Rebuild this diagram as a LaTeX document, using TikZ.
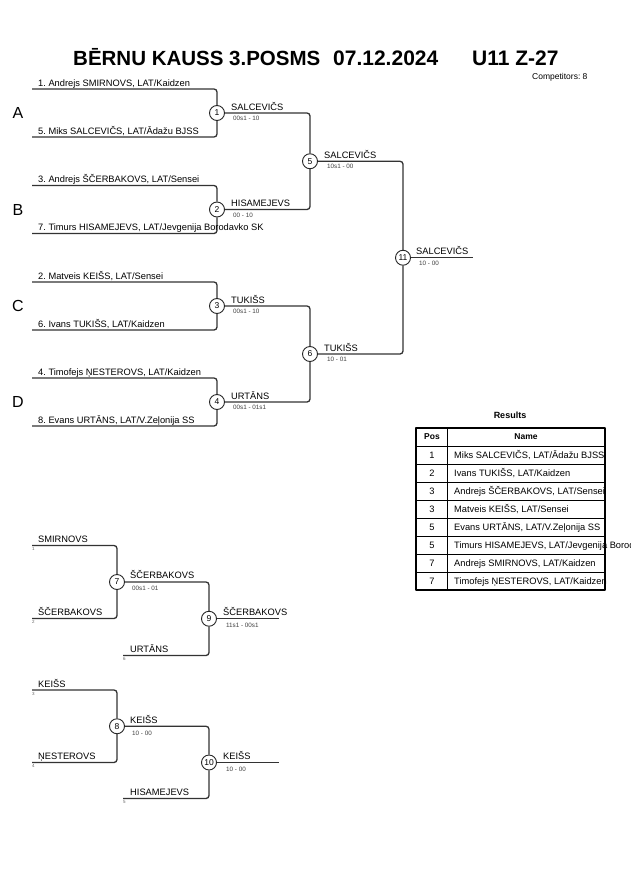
\documentclass[tikz,border=0pt]{standalone}
\usepackage{fontspec}
\setmainfont{Liberation Sans}
\usetikzlibrary{backgrounds}
\frenchspacing
\begin{document}
\begin{tikzpicture}[x=1pt,y=-1pt,line join=round,line cap=round,font=\fontsize{9.3}{10}\selectfont,
	bracket/.style={line width=1.3pt,black!80,rounded corners=3pt},
	pool/.style={circle,draw=black!85,line width=0.9pt,fill=white,inner sep=0pt,minimum size=15pt,font=\fontsize{8.5}{9}\selectfont},
	entrant/.style={anchor=base west,inner sep=0pt},
	score/.style={anchor=base west,inner sep=0pt,font=\fontsize{6.3}{7}\selectfont,black!75},
	seed/.style={anchor=north west,inner sep=0pt,font=\fontsize{4.5}{5}\selectfont,black!60},
	group/.style={inner sep=0pt,font=\fontsize{16}{18}\selectfont},
	headline/.style={anchor=base west,inner sep=0pt,font=\fontsize{21}{23}\selectfont\bfseries}]
	\useasboundingbox (0,0) rectangle (630,891);
	% virsraksts
	\node[headline,font=\fontsize{20.5}{22}\selectfont\bfseries] (title) at (73,66) {BĒRNU KAUSS 3.POSMS};
	\node[headline] (date) at (333,66) {07.12.2024};
	\node[headline] (cat) at (472,66) {U11 Z-27};
	\node[entrant,font=\fontsize{8.5}{9}\selectfont] (comp) at (532,79) {Competitors: 8};
	% pamata tabula
	\path
	(32,89) coordinate (p1)
	(32,137) coordinate (p5)
	(32,185.5) coordinate (p3)
	(32,233.5) coordinate (p7)
	(32,282) coordinate (p2)
	(32,330) coordinate (p6)
	(32,378) coordinate (p4)
	(32,426) coordinate (p8)
	(473,257.75) coordinate (f11);
	\node[pool] (m1) at (217,113) {1};
	\node[pool] (m2) at (217,209.5) {2};
	\node[pool] (m3) at (217,306) {3};
	\node[pool] (m4) at (217,402) {4};
	\node[pool] (m5) at (310,161.25) {5};
	\node[pool] (m6) at (310,354) {6};
	\node[pool] (m11) at (403,257.75) {11};
	% liniju savienojumi
	\begin{scope}[on background layer]
	\draw[bracket] (p1) -| (m1) (p5) -| (m1);
	\draw[bracket] (p3) -| (m2) (p7) -| (m2);
	\draw[bracket] (p2) -| (m3) (p6) -| (m3);
	\draw[bracket] (p4) -| (m4) (p8) -| (m4);
	\draw[bracket] (m1) -| (m5) (m2) -| (m5);
	\draw[bracket] (m3) -| (m6) (m4) -| (m6);
	\draw[bracket] (m5) -| (m11) (m6) -| (m11);
	\draw[bracket] (m11) -- (f11);
	\end{scope}
	% grupas
	\node[group] (gA) at (18,113) {A};
	\node[group] (gB) at (18,209.5) {B};
	\node[group] (gC) at (18,306) {C};
	\node[group] (gD) at (18,402) {D};
	% dalibnieki
	\node[entrant] (n1) at (38,86) {1. Andrejs SMIRNOVS, LAT/Kaidzen};
	\node[entrant] (n5) at (38,134) {5. Miks SALCEVIČS, LAT/Ādažu BJSS};
	\node[entrant] (n3) at (38,182.5) {3. Andrejs ŠČERBAKOVS, LAT/Sensei};
	\node[entrant] (n7) at (38,230.5) {7. Timurs HISAMEJEVS, LAT/Jevgenija Borodavko SK};
	\node[entrant] (n2) at (38,279) {2. Matveis KEIŠS, LAT/Sensei};
	\node[entrant] (n6) at (38,327) {6. Ivans TUKIŠS, LAT/Kaidzen};
	\node[entrant] (n4) at (38,375) {4. Timofejs ŅESTEROVS, LAT/Kaidzen};
	\node[entrant] (n8) at (38,423) {8. Evans URTĀNS, LAT/V.Zeļonija SS};
	% uzvaretaji un rezultati
	\node[entrant] (w1) at (231,110) {SALCEVIČS};
	\node[score] (s1) at (233,120.5) {00s1 - 10};
	\node[entrant] (w2) at (231,206.5) {HISAMEJEVS};
	\node[score] (s2) at (233,217) {00 - 10};
	\node[entrant] (w3) at (231,303) {TUKIŠS};
	\node[score] (s3) at (233,313.5) {00s1 - 10};
	\node[entrant] (w4) at (231,399) {URTĀNS};
	\node[score] (s4) at (233,409.5) {00s1 - 01s1};
	\node[entrant] (w5) at (324,158.25) {SALCEVIČS};
	\node[score] (s5) at (327,168.5) {10s1 - 00};
	\node[entrant] (w6) at (324,351) {TUKIŠS};
	\node[score] (s6) at (327,361.5) {10 - 01};
	\node[entrant] (w11) at (416,254.5) {SALCEVIČS};
	\node[score] (s11) at (419,265) {10 - 00};
	% rezultatu tabula
	\node[font=\fontsize{9}{10}\selectfont\bfseries] (res) at (510,415) {Results};
	\draw[line width=0.8pt] (447,428)--(447,590)
	(416,446)--(605,446) (416,464)--(605,464) (416,482)--(605,482) (416,500)--(605,500)
	(416,518)--(605,518) (416,536)--(605,536) (416,554)--(605,554) (416,572)--(605,572);
	\draw[line width=1.6pt] (416,428) rectangle (605,590);
	\node[font=\fontsize{8.5}{9}\selectfont\bfseries] (hpos) at (432,437) {Pos};
	\node[font=\fontsize{8.5}{9}\selectfont\bfseries] (hname) at (526,437) {Name};
	\node[anchor=base] (r1) at (432,458) {1};
	\node[anchor=base] (r2) at (432,476) {2};
	\node[anchor=base] (r3) at (432,494) {3};
	\node[anchor=base] (r4) at (432,512) {3};
	\node[anchor=base] (r5) at (432,530) {5};
	\node[anchor=base] (r6) at (432,548) {5};
	\node[anchor=base] (r7) at (432,566) {7};
	\node[anchor=base] (r8) at (432,584) {7};
	\node[entrant] (t1) at (454,458) {Miks SALCEVIČS, LAT/Ādažu BJSS};
	\node[entrant] (t2) at (454,476) {Ivans TUKIŠS, LAT/Kaidzen};
	\node[entrant] (t3) at (454,494) {Andrejs ŠČERBAKOVS, LAT/Sensei};
	\node[entrant] (t4) at (454,512) {Matveis KEIŠS, LAT/Sensei};
	\node[entrant] (t5) at (454,530) {Evans URTĀNS, LAT/V.Zeļonija SS};
	\node[entrant] (t6) at (454,548) {Timurs HISAMEJEVS, LAT/Jevgenija Borodavko SK};
	\node[entrant] (t7) at (454,566) {Andrejs SMIRNOVS, LAT/Kaidzen};
	\node[entrant] (t8) at (454,584) {Timofejs ŅESTEROVS, LAT/Kaidzen};
	% repesazs
	\path
	(32,545.5) coordinate (q1)
	(32,618.5) coordinate (q2)
	(123,655.5) coordinate (q6)
	(279,618.75) coordinate (f9)
	(32,690) coordinate (q3)
	(32,762.5) coordinate (q4)
	(123,798.5) coordinate (q5)
	(279,762.5) coordinate (f10);
	\node[pool] (m7) at (117,582) {7};
	\node[pool] (m9) at (209,618.75) {9};
	\node[pool] (m8) at (117,726.25) {8};
	\node[pool] (m10) at (209,762.5) {10};
	\begin{scope}[on background layer]
	\draw[bracket] (q1) -| (m7) (q2) -| (m7);
	\draw[bracket] (m7) -| (m9) (q6) -| (m9);
	\draw[bracket] (m9) -- (f9);
	\draw[bracket] (q3) -| (m8) (q4) -| (m8);
	\draw[bracket] (m8) -| (m10) (q5) -| (m10);
	\draw[bracket] (m10) -- (f10);
	\end{scope}
	\node[entrant] (e1) at (38,542.5) {SMIRNOVS};
	\node[seed] (d1) at (32,547.5) {1};
	\node[entrant] (e2) at (38,615.5) {ŠČERBAKOVS};
	\node[seed] (d2) at (32,620.5) {2};
	\node[entrant] (e6) at (130,652.5) {URTĀNS};
	\node[seed] (d6) at (123,657.5) {6};
	\node[entrant] (w7) at (130,578.5) {ŠČERBAKOVS};
	\node[score] (s7) at (132,590.5) {00s1 - 01};
	\node[entrant] (w9) at (223,615) {ŠČERBAKOVS};
	\node[score] (s9) at (226,627) {11s1 - 00s1};
	\node[entrant] (e3) at (38,687) {KEIŠS};
	\node[seed] (d3) at (32,692) {3};
	\node[entrant] (e4) at (38,759.5) {ŅESTEROVS};
	\node[seed] (d4) at (32,764.5) {4};
	\node[entrant] (e5) at (130,795.5) {HISAMEJEVS};
	\node[seed] (d5) at (123,800.5) {5};
	\node[entrant] (w8) at (130,723) {KEIŠS};
	\node[score] (s8) at (132,735) {10 - 00};
	\node[entrant] (w10) at (223,759) {KEIŠS};
	\node[score] (s10) at (226,771) {10 - 00};
\end{tikzpicture}
\end{document}
